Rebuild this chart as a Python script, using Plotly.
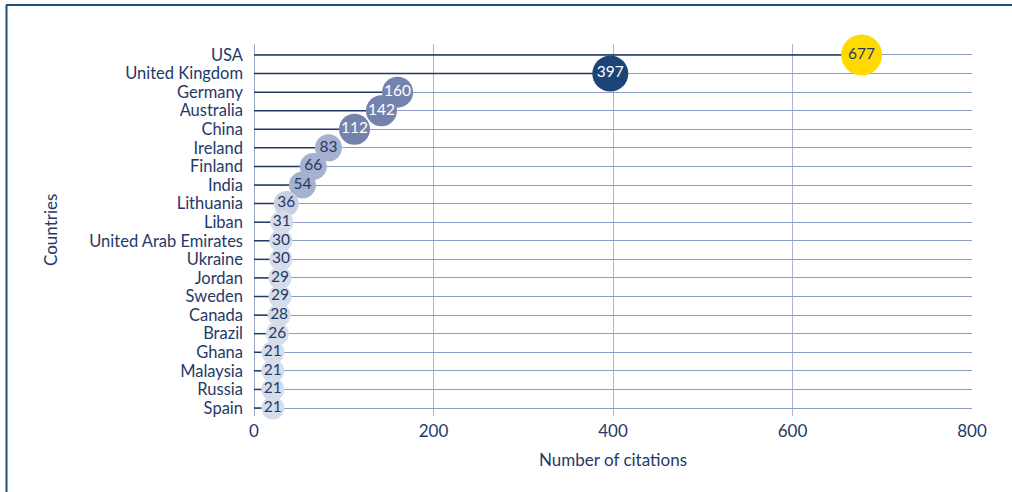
import plotly.graph_objects as go

countries = ["USA", "United Kingdom", "Germany", "Australia", "China", "Ireland",
             "Finland", "India", "Lithuania", "Liban", "United Arab Emirates",
             "Ukraine", "Jordan", "Sweden", "Canada", "Brazil", "Ghana",
             "Malaysia", "Russia", "Spain"]
citations = [677, 397, 160, 142, 112, 83, 66, 54, 36, 31, 30, 30, 29, 29, 28, 26,
             21, 21, 21, 21]
x_ticks = [0, 200, 400, 600, 800]

NAVY = "#1F3A68"
FONT = "Lato"


def bubble_style(v):
    """Fill colour, diameter and label colour of a bubble by citation count."""
    if v >= 600:
        return "#FFDA00", 41, NAVY
    if v >= 300:
        return "#1D4477", 36, "white"
    if v >= 100:
        return "#7483AD", 31, "white"
    if v >= 50:
        return "#A6B1CF", 27, NAVY
    if v >= 35:
        return "#C9D0E2", 25, NAVY
    return "#D6DCE9", 23, NAVY


styles = [bubble_style(v) for v in citations]

# stems from the axis to each value
stem_x, stem_y = [], []
for c, v in zip(countries, citations):
    stem_x += [0, v, None]
    stem_y += [c, c, None]

fig = go.Figure()
fig.add_trace(go.Scatter(
    x=stem_x, y=stem_y, mode="lines",
    line=dict(color="#203864", width=1.5),
    hoverinfo="skip", showlegend=False, cliponaxis=False,
))
fig.add_trace(go.Scatter(
    x=citations, y=countries, mode="markers+text",
    marker=dict(color=[s[0] for s in styles], size=[s[1] for s in styles],
                line=dict(width=0), opacity=1),
    text=[str(v) for v in citations], textposition="middle center",
    textfont=dict(family=FONT, size=15.5, color=[s[2] for s in styles]),
    showlegend=False, cliponaxis=False,
))

L, R, T, B = 254, 40, 44, 76
W, H = 1012, 492
pw, ph = W - L - R, H - T - B


def px_x(p):
    return (p - L) / pw


def px_y(p):
    return (H - B - p) / ph


fig.update_layout(
    width=W, height=H,
    margin=dict(l=L, r=R, t=T, b=B, pad=0),
    paper_bgcolor="white", plot_bgcolor="white",
    font=dict(family=FONT, color=NAVY, size=17),
    xaxis=dict(
        range=[0, 800], tickmode="array", tickvals=x_ticks,
        ticktext=[str(t) for t in x_ticks],
        showgrid=True, gridcolor="#AAB5D0", gridwidth=1.2,
        zeroline=True, zerolinecolor="#9AA8C8", zerolinewidth=1.2,
        showline=False, ticks="", tickfont=dict(size=17, color=NAVY),
        ticklabelstandoff=3,
    ),
    yaxis=dict(
        type="category", categoryorder="array", categoryarray=countries,
        tickmode="array", tickvals=countries, ticktext=countries,
        range=[19.43, -0.59],
        showgrid=True, gridcolor="#8E9DC6", gridwidth=1,
        showline=False, ticks="", tickfont=dict(size=16.5, color=NAVY),
        ticklabelstandoff=10,
    ),
    annotations=[
        dict(text="Countries", xref="paper", yref="paper",
             x=px_x(50), y=px_y(230), showarrow=False, textangle=-90,
             font=dict(size=17, color=NAVY), xanchor="center", yanchor="middle"),
        dict(text="Number of citations", xref="paper", yref="paper",
             x=px_x(613), y=px_y(460), showarrow=False,
             font=dict(size=17, color=NAVY), xanchor="center", yanchor="middle"),
    ],
    shapes=[
        dict(type="line", xref="paper", yref="paper",
             x0=px_x(6), x1=px_x(W), y0=px_y(5), y1=px_y(5),
             line=dict(color="#1F4E79", width=2)),
        dict(type="line", xref="paper", yref="paper",
             x0=px_x(6.5), x1=px_x(6.5), y0=px_y(5), y1=px_y(H),
             line=dict(color="#1F4E79", width=2)),
    ],
)

fig.write_html("out.html")
